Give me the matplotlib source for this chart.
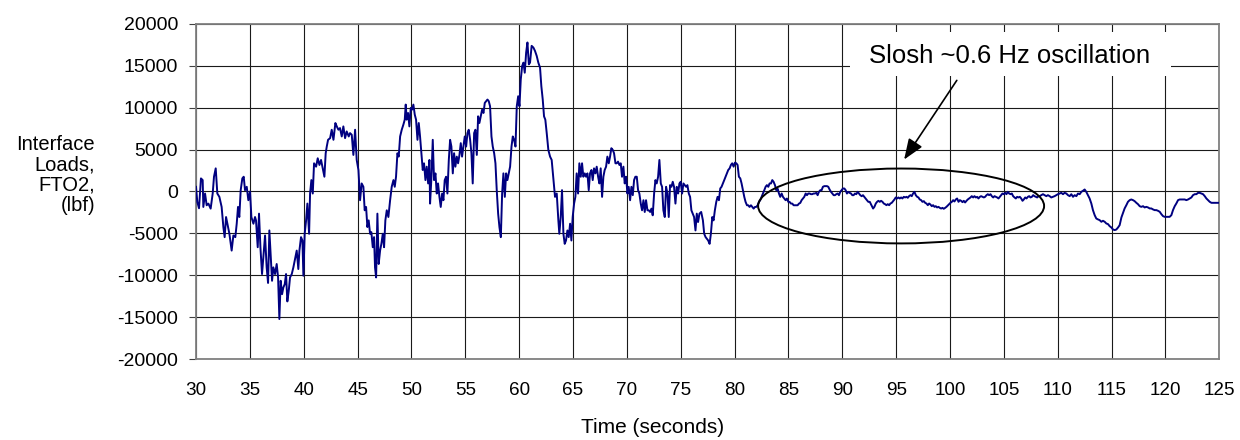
import numpy as np
import matplotlib
matplotlib.use("Agg")
import matplotlib.pyplot as plt
from matplotlib.patches import Ellipse, Rectangle

plt.rcParams['font.family'] = ['Liberation Sans', 'DejaVu Sans']
plt.rcParams['axes.unicode_minus'] = False

# (time s, load lbf), one list per stretch of time
seg_30_45 = [
    (30.00, 560), (30.12, -1240), (30.28, -2000), (30.46, 1560), (30.62, 1360), (30.68, -1840),
    (30.84, -240), (30.99, -1640), (31.15, -1440), (31.36, -2040), (31.55, -240), (31.67, 1760),
    (31.83, 2760), (31.98, -240), (32.17, -640), (32.38, -1840), (32.54, -4240), (32.66, -5440),
    (32.79, -3040), (32.91, -3840), (33.10, -5040), (33.22, -6240), (33.31, -7040), (33.47, -5240),
    (33.65, -5440), (33.78, -3840), (33.90, -1840), (34.02, -3040), (34.15, 160), (34.30, 1560),
    (34.43, 1760), (34.55, 160), (34.71, 560), (34.86, -1040), (35.02, 0), (35.14, -3040),
    (35.33, -3840), (35.48, -3040), (35.57, -3440), (35.73, -6640), (35.85, -2640), (35.98, -6640),
    (36.13, -9840), (36.25, -7840), (36.41, -5240), (36.56, -9040), (36.69, -10900), (36.81, -4640),
    (36.93, -7440), (37.06, -10640), (37.18, -9040), (37.34, -9840), (37.49, -8640), (37.62, -10240),
    (37.74, -15200), (37.86, -10640), (37.99, -12240), (38.11, -11440), (38.24, -11040), (38.36, -9840),
    (38.48, -13100), (38.61, -11840), (38.73, -10240), (38.89, -9840), (39.04, -9040), (39.23, -7840),
    (39.35, -7040), (39.50, -9240), (39.60, -7040), (39.75, -5440), (39.88, -5840), (39.97, -10040),
    (40.09, -5040), (40.22, -3440), (40.34, -1440), (40.50, -5040), (40.59, -240), (40.71, 1360),
    (40.84, -240), (40.96, 3360), (41.15, 2960), (41.30, 3960), (41.46, 3160), (41.61, 3760),
    (41.76, 2760), (41.92, 1760), (42.04, 4560), (42.14, 5360), (42.26, 6160), (42.45, 6360),
    (42.60, 7360), (42.76, 6160), (42.94, 8160), (43.07, 7760), (43.22, 7360), (43.37, 7560),
    (43.53, 6560), (43.68, 7760), (43.84, 6360), (43.99, 7160), (44.18, 6560), (44.30, 6960),
    (44.46, 6760), (44.61, 4360), (44.77, 7360), (44.92, 3760), (45.08, 2560),
]
seg_45_61 = [
    (45.23, -1040), (45.38, 960), (45.54, 560), (45.66, -2240), (45.79, -1840), (45.91, -4240),
    (46.03, -3440), (46.16, -5040), (46.28, -4840), (46.41, -6640), (46.53, -5440), (46.62, -9040),
    (46.72, -10240), (46.84, -2640), (46.96, -8640), (47.09, -7040), (47.21, -6240), (47.34, -5040),
    (47.46, -6640), (47.58, -3440), (47.71, -2240), (47.86, -3040), (48.02, -1040), (48.17, 560),
    (48.33, 1360), (48.45, 560), (48.57, 1760), (48.70, 4560), (48.82, 4160), (48.95, 6560),
    (49.10, 7360), (49.25, 7960), (49.38, 8560), (49.47, 10360), (49.56, 8560), (49.69, 9360),
    (49.81, 7760), (49.94, 9960), (50.06, 9760), (50.18, 10360), (50.31, 9160), (50.43, 8560),
    (50.56, 6160), (50.68, 8160), (50.80, 6560), (50.93, 4560), (51.05, 2560), (51.17, 3360),
    (51.30, 1360), (51.42, 2960), (51.55, 960), (51.67, 3760), (51.73, -1440), (51.86, 1760),
    (51.98, 6160), (52.10, 1360), (52.23, 2160), (52.35, -240), (52.47, 960), (52.60, -640),
    (52.72, -1840), (52.85, -240), (52.97, -1040), (53.09, 1360), (53.22, 1760), (53.34, -240),
    (53.47, 3760), (53.59, 6160), (53.71, 5360), (53.84, 2160), (53.96, 4560), (54.08, 2960),
    (54.21, 4160), (54.33, 3360), (54.46, 4360), (54.58, 5760), (54.70, 4160), (54.83, 5360),
    (54.95, 6560), (55.08, 5360), (55.20, 6960), (55.32, 7360), (55.45, 6160), (55.57, 4560),
    (55.69, 960), (55.82, 6960), (55.94, 7360), (56.07, 4360), (56.19, 8960), (56.31, 8160),
    (56.44, 8960), (56.56, 9760), (56.69, 9360), (56.81, 10560), (56.93, 10760), (57.06, 10960),
    (57.18, 10760), (57.30, 10160), (57.43, 6560), (57.55, 5360), (57.68, 4560), (57.80, 3360),
    (57.92, 160), (58.05, -2640), (58.17, -4240), (58.30, -5440), (58.42, -240), (58.54, 2160),
    (58.67, -640), (58.79, 2160), (58.91, 1360), (59.04, 2160), (59.16, 2960), (59.29, 5360),
    (59.41, 6560), (59.53, 6160), (59.66, 5360), (59.78, 10160), (59.91, 11360), (60.03, 10160),
    (60.15, 13360), (60.28, 14960), (60.40, 15360), (60.52, 14160), (60.65, 16560), (60.77, 17760),
    (60.90, 15160),
]
seg_61_77 = [
    (61.01, 15360), (61.16, 17360), (61.32, 17160), (61.47, 16760), (61.63, 16160), (61.78, 15360),
    (61.94, 14760), (62.06, 12560), (62.19, 10960), (62.31, 8960), (62.43, 8560), (62.56, 6960),
    (62.71, 4960), (62.87, 4160), (63.02, 3760), (63.18, 1560), (63.33, -640), (63.49, -240),
    (63.64, -3440), (63.73, -5040), (63.86, -3040), (63.98, 160), (64.11, -5040), (64.23, -6240),
    (64.35, -5840), (64.48, -4640), (64.60, -5440), (64.73, -3840), (64.85, -5840), (64.97, -3040),
    (65.10, -1440), (65.22, -640), (65.34, 2160), (65.47, -240), (65.59, 3360), (65.72, 1760),
    (65.84, 3360), (65.96, 1760), (66.09, 2160), (66.21, 1760), (66.34, 2160), (66.46, 160),
    (66.58, 2160), (66.71, 2560), (66.83, 1360), (66.95, 2760), (67.08, 2160), (67.20, 2960),
    (67.33, 1760), (67.45, 960), (67.57, 2760), (67.70, -640), (67.82, 1760), (67.94, 2560),
    (68.07, 2960), (68.19, 4160), (68.32, 3360), (68.44, 4160), (68.56, 5160), (68.69, 4960),
    (68.81, 4560), (68.94, 3360), (69.06, 3360), (69.18, 3560), (69.31, 3160), (69.43, 3360),
    (69.55, 1760), (69.68, 2960), (69.80, 960), (69.93, 1760), (70.05, -240), (70.17, 560),
    (70.30, -1040), (70.42, 560), (70.55, -440), (70.67, 1360), (70.79, 1760), (70.92, 1760),
    (71.04, 160), (71.16, -240), (71.29, -1440), (71.41, -2240), (71.54, -1040), (71.66, -2440),
    (71.78, -1040), (71.91, -2240), (72.03, -2240), (72.16, -2440), (72.28, -2040), (72.40, -2840),
    (72.53, -240), (72.65, 1360), (72.77, 960), (72.90, 1760), (73.02, 3760), (73.15, 960),
    (73.27, 560), (73.39, -2240), (73.52, -3040), (73.64, 560), (73.77, -240), (73.89, -3040),
    (74.01, 760), (74.14, 560), (74.26, 1160), (74.38, 560), (74.51, -1440), (74.63, 560),
    (74.76, -240), (74.88, 960), (75.00, 1160), (75.13, -240), (75.25, 960), (75.38, 760),
    (75.50, 560), (75.62, 760), (75.75, -240), (75.87, -640), (75.99, -2240), (76.12, -2640),
    (76.24, -3040), (76.37, -4640), (76.49, -2640), (76.61, -3640), (76.74, -2640),
]
seg_77_92 = [
    (76.90, -2440), (77.06, -3440), (77.18, -5040), (77.31, -5440), (77.43, -5640), (77.55, -5840),
    (77.68, -6240), (77.80, -5040), (77.93, -3040), (78.05, -3440), (78.17, -2240), (78.30, -1240),
    (78.42, -640), (78.55, -1040), (78.67, 360), (78.79, 560), (78.92, 960), (79.04, 1360),
    (79.16, 1760), (79.29, 2160), (79.41, 2560), (79.54, 2760), (79.66, 3160), (79.78, 3360),
    (79.91, 2960), (80.03, 3440), (80.16, 3360), (80.28, 3160), (80.40, 1760), (80.53, 1560),
    (80.65, 960), (80.77, 160), (80.90, -640), (81.02, -1240), (81.15, -1640), (81.27, -1640),
    (81.39, -1840), (81.52, -1640), (81.64, -1840), (81.77, -2040), (81.89, -1840), (82.01, -1840),
    (82.14, -1640), (82.26, -1240), (82.38, -1040), (82.51, -640), (82.63, -240), (82.76, 160),
    (82.88, 560), (83.00, 760), (83.13, 560), (83.25, 960), (83.38, 960), (83.50, 1360),
    (83.62, 1160), (83.75, 760), (83.87, 160), (83.99, 360), (84.12, -240), (84.24, -640),
    (84.37, -240), (84.49, -640), (84.61, -840), (84.74, -1040), (84.86, -840), (84.99, -1240),
    (85.11, -1240), (85.23, -1440), (85.36, -1440), (85.48, -1640), (85.60, -1640), (85.73, -1640),
    (85.85, -1640), (85.98, -1440), (86.10, -1360), (86.22, -1040), (86.35, -840), (86.47, -640),
    (86.60, -240), (86.72, -440), (86.84, -240), (86.97, -240), (87.09, -320), (87.21, -320),
    (87.34, -240), (87.46, -240), (87.59, -160), (87.71, -440), (87.83, -40), (87.96, 160),
    (88.08, 160), (88.20, 560), (88.33, 640), (88.45, 640), (88.58, 640), (88.70, 560),
    (88.82, 240), (88.95, -40), (89.07, -240), (89.20, -440), (89.32, -440), (89.44, -320),
    (89.57, -240), (89.69, -440), (89.81, -40), (89.94, 160), (90.06, 360), (90.19, 360),
    (90.31, 160), (90.43, -240), (90.56, -40), (90.68, -160), (90.81, -240), (90.93, -440),
    (91.05, -440), (91.18, -240), (91.30, -320), (91.43, -40), (91.55, -240), (91.67, -440),
    (91.80, -560), (91.92, -440), (92.04, -640), (92.17, -840), (92.29, -1040), (92.42, -1240),
]
seg_92_108 = [
    (92.55, -1230), (92.70, -1630), (92.86, -2030), (92.98, -1830), (93.11, -1430), (93.23, -1230),
    (93.35, -1110), (93.48, -1230), (93.60, -1110), (93.73, -1230), (93.85, -1430), (93.97, -1510),
    (94.10, -1630), (94.22, -1510), (94.35, -1630), (94.47, -1430), (94.59, -1350), (94.72, -1150),
    (94.84, -950), (94.96, -710), (95.09, -830), (95.21, -710), (95.34, -830), (95.46, -710),
    (95.58, -830), (95.71, -635), (95.83, -710), (95.96, -635), (96.08, -750), (96.20, -555),
    (96.33, -435), (96.45, -555), (96.57, -240), (96.70, -40), (96.82, -435), (96.95, -635),
    (97.07, -710), (97.19, -950), (97.32, -1030), (97.44, -1230), (97.57, -1150), (97.69, -1350),
    (97.81, -1430), (97.94, -1630), (98.06, -1430), (98.18, -1550), (98.31, -1750), (98.43, -1630),
    (98.56, -1830), (98.68, -1750), (98.80, -1900), (98.93, -1830), (99.05, -1950), (99.18, -2030),
    (99.30, -1950), (99.42, -2060), (99.55, -1950), (99.67, -1830), (99.79, -1670), (99.92, -1510),
    (100.04, -1350), (100.17, -1230), (100.29, -1030), (100.41, -1190), (100.54, -950), (100.66, -830),
    (100.79, -1230), (100.91, -1030), (101.03, -1110), (101.16, -1270), (101.28, -1110), (101.40, -1310),
    (101.53, -1110), (101.65, -950), (101.78, -830), (101.90, -710), (102.02, -555), (102.15, -710),
    (102.27, -555), (102.40, -710), (102.52, -635), (102.64, -830), (102.77, -635), (102.89, -555),
    (103.01, -635), (103.14, -710), (103.26, -635), (103.39, -435), (103.51, -320), (103.63, -435),
    (103.76, -320), (103.88, -555), (104.01, -710), (104.13, -555), (104.25, -635), (104.38, -710),
    (104.50, -830), (104.62, -635), (104.75, -435), (104.87, -240), (105.00, -320), (105.12, -160),
    (105.24, -320), (105.37, -40), (105.49, -240), (105.62, -320), (105.74, -240), (105.86, -555),
    (105.99, -710), (106.11, -830), (106.23, -635), (106.36, -710), (106.48, -635), (106.61, -830),
    (106.73, -1110), (106.85, -950), (106.98, -710), (107.10, -830), (107.23, -635), (107.35, -555),
    (107.47, -710), (107.60, -635), (107.72, -435), (107.84, -555), (107.97, -635), (108.09, -710),
    (108.22, -555),
]
seg_108_125 = [
    (108.32, -555), (108.47, -435), (108.63, -320), (108.78, -435), (108.94, -555), (109.09, -435),
    (109.25, -555), (109.40, -710), (109.56, -635), (109.71, -555), (109.87, -435), (110.02, -320),
    (110.18, -240), (110.33, -160), (110.49, -320), (110.64, -160), (110.80, -240), (110.95, -435),
    (111.11, -555), (111.26, -320), (111.42, -635), (111.57, -435), (111.73, -555), (111.88, -240),
    (112.04, -320), (112.19, -40), (112.34, 80), (112.50, 240), (112.65, -40), (112.81, -435),
    (112.96, -830), (113.12, -1430), (113.27, -2220), (113.43, -2820), (113.58, -3220), (113.74, -3330),
    (113.89, -3410), (114.05, -3610), (114.20, -3490), (114.36, -3610), (114.51, -3810), (114.67, -3890),
    (114.82, -4130), (114.98, -4290), (115.13, -4530), (115.29, -4600), (115.44, -4530), (115.60, -4290),
    (115.75, -4010), (115.91, -3100), (116.06, -2540), (116.21, -2020), (116.37, -1630), (116.52, -1230),
    (116.68, -1030), (116.83, -950), (116.99, -1030), (117.14, -1150), (117.30, -1350), (117.45, -1510),
    (117.61, -1750), (117.76, -1830), (117.92, -1750), (118.07, -1900), (118.23, -1830), (118.38, -1900),
    (118.54, -2020), (118.69, -2020), (118.85, -2140), (119.00, -2220), (119.16, -2220), (119.31, -2300),
    (119.47, -2420), (119.62, -2700), (119.78, -2940), (119.93, -3020), (120.09, -3020), (120.24, -3020),
    (120.39, -3020), (120.55, -2820), (120.70, -2220), (120.86, -1750), (121.01, -1430), (121.17, -1030),
    (121.32, -950), (121.48, -950), (121.63, -950), (121.79, -950), (121.94, -1030), (122.10, -950),
    (122.25, -830), (122.41, -710), (122.56, -435), (122.72, -320), (122.87, -320), (123.03, -160),
    (123.18, -160), (123.34, -240), (123.49, -320), (123.65, -555), (123.80, -830), (123.96, -1030),
    (124.11, -1230), (124.27, -1350), (124.42, -1350), (124.58, -1350), (124.73, -1350), (124.89, -1350),
    (125.00, -1350),
]

x_ticks = np.arange(30, 126, 5)
y_ticks = np.arange(-20000, 20001, 5000)

# annotation geometry (data units)
oval_center = (95.46, -1725)
oval_size = (26.55, 8925)
arrow_tail = (100.63, 13245)
arrow_head = (95.74, 3808)

data = np.array(seg_30_45 + seg_45_61 + seg_61_77 + seg_77_92 + seg_92_108 + seg_108_125)
t, load = data[:, 0], data[:, 1]

fig = plt.figure(figsize=(12.4, 4.4), dpi=100)
ax = fig.add_axes([196/1240, 1 - 359.3/440, 1023.3/1240, 335.6/440])

ax.plot(t, load, color='#000080', lw=1.4, zorder=3)

ax.set_xlim(30, 125)
ax.set_ylim(-20000, 20000)
ax.set_xticks(x_ticks)
ax.set_yticks(y_ticks)
ax.grid(True, color='#1a1a1a', lw=0.8)
ax.set_axisbelow(True)
for s in ax.spines.values():
    s.set_color('#808080')
    s.set_linewidth(1.3)
ax.tick_params(axis='y', direction='out', length=5, width=0.8, color='#404040',
               labelsize=14, pad=8)
ax.tick_params(axis='x', length=0, labelsize=13.6, pad=16)

# white box behind the note
ax.add_patch(Rectangle((0.639, 0.844), 0.3135, 0.132, transform=ax.transAxes,
                       facecolor='white', edgecolor='none', zorder=2.5))
ax.text(0.7955, 0.882, 'Slosh ~0.6 Hz oscillation', transform=ax.transAxes,
        ha='center', va='baseline', fontsize=18.5, zorder=4)
ax.annotate('', xy=arrow_head, xytext=arrow_tail,
            arrowprops=dict(arrowstyle='-|>,head_length=0.9,head_width=0.35',
                            mutation_scale=14, color='black', lw=1.2,
                            shrinkA=0, shrinkB=0), zorder=4)
ax.add_patch(Ellipse(oval_center, oval_size[0], oval_size[1], fill=False,
                     edgecolor='black', lw=1.4, zorder=4))

fig.text(95/1240, 0.602, 'Interface\nLoads,\nFTO2,\n(lbf)', ha='right', va='center',
         multialignment='right', fontsize=14.5, linespacing=1.1)
fig.text(652.5/1240, 1 - 427/440, 'Time (seconds)', ha='center', va='center',
         fontsize=15)

fig.savefig('out.png', dpi=100)
